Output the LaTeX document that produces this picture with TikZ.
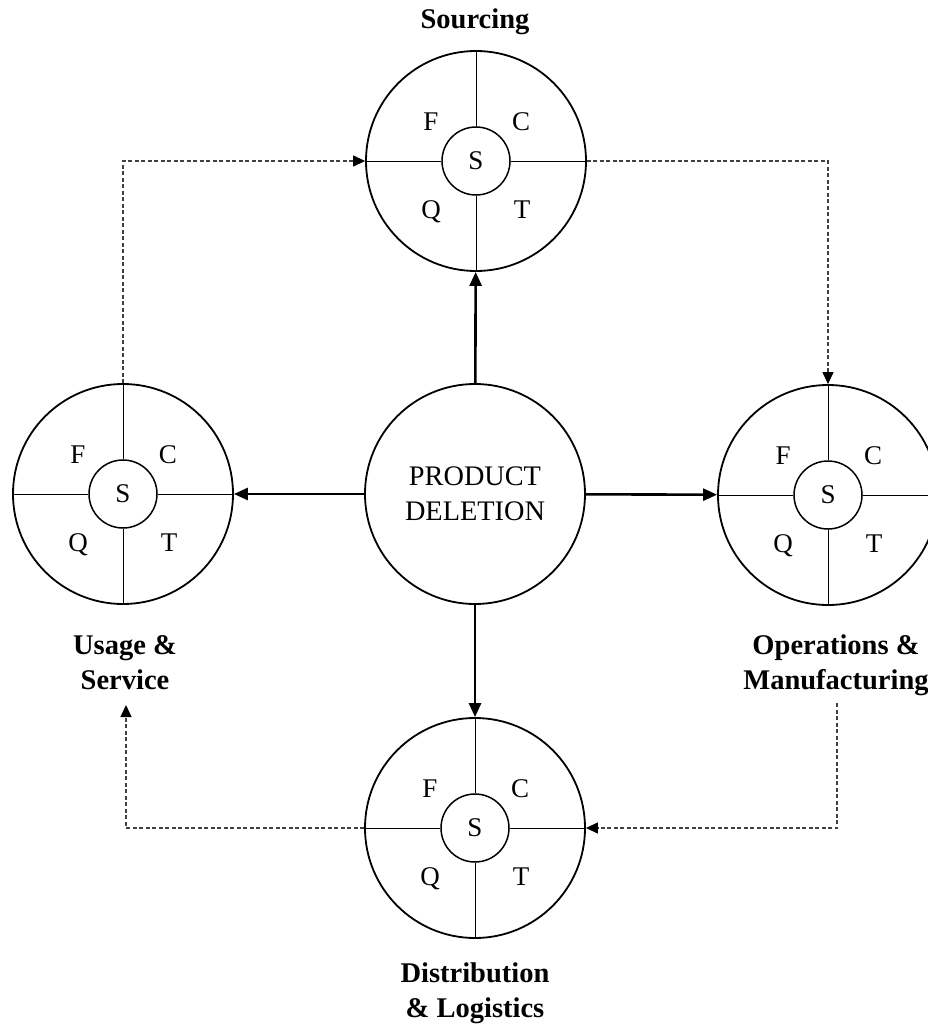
\documentclass[tikz,border=0pt]{standalone}
\usepackage{fontspec}
\setmainfont{Liberation Serif}
\usetikzlibrary{arrows.meta}

% One stakeholder wheel: outer ring, inner S core, cross lines and the F/C/Q/T letters
\newcommand\StakeWheel[2]{%
  \node[outerring] (#1) at (#2) {};
  \node[core] (#1-s) at (#2) {S};
  \draw[cross] (#1.north) -- (#1-s.north);
  \draw[cross] (#1-s.south) -- (#1.south);
  \draw[cross] (#1.west) -- (#1-s.west);
  \draw[cross] (#1-s.east) -- (#1.east);
  \path (#1) ++(-45,-31) node[letter] (#1-f) {F};
  \path (#1) ++(45,-31)  node[letter] (#1-c) {C};
  \path (#1) ++(-45,57)  node[letter] (#1-q) {Q};
  \path (#1) ++(46,57)   node[letter] (#1-t) {T};
}

\begin{document}
\begin{tikzpicture}[x=1pt,y=-1pt,
  outerring/.style={circle,draw,line width=1.8pt,minimum size=220pt,inner sep=0pt},
  core/.style={circle,draw,line width=1.5pt,minimum size=68pt,inner sep=0pt,
    font=\fontsize{27}{30}\selectfont},
  cross/.style={line width=0.9pt},
  letter/.style={anchor=base,inner sep=0pt,font=\fontsize{27}{30}\selectfont},
  hub/.style={circle,draw,line width=1.8pt,minimum size=220pt,inner sep=0pt,
    align=center,font=\fontsize{28.3}{35}\selectfont},
  caption/.style={align=center,anchor=base,inner sep=0pt,
    font=\bfseries\fontsize{28.5}{34.5}\selectfont},
  push/.style={line width=2.6pt,-{Triangle[length=14pt,width=12pt]}},
  feedback/.style={line width=1.2pt,draw=black!75,dash pattern=on 4pt off 2.5pt,
    -{Triangle[length=12pt,width=11pt,color=black]}}]

\useasboundingbox (0,0) rectangle (927,1025);

% hub
\node[hub] (pd) at (475,494) {PRODUCT\\DELETION};

% stakeholder wheels
\StakeWheel{src}{476,161}
\StakeWheel{use}{123,494}
\StakeWheel{ops}{828,495}
\StakeWheel{dst}{475,828}

% captions (base anchor sits on the last line)
\node[caption] (src-label) at (475,29) {Sourcing};
\node[caption] (use-label) at (125,689) {Usage \&\\Service};
\node[caption] (ops-label) at (836,689) {Operations \&\\Manufacturing};
\node[caption] (dst-label) at (475,1017) {Distribution\\\& Logistics};

% hub to wheels
\draw[push] (pd) -- (src);
\draw[push] (pd) -- (use);
\draw[push] (pd) -- (ops);
\draw[push] (pd) -- (dst);

% feedback loop
\coordinate (ops-foot) at (837,703);
\coordinate (use-foot) at (126,705);
\draw[feedback] (use.north) |- (src.west);
\draw[feedback] (src.east) -| (ops.north);
\draw[feedback] (ops-foot) |- (dst.east);
\draw[feedback] (dst.west) -| (use-foot);
\end{tikzpicture}
\end{document}
